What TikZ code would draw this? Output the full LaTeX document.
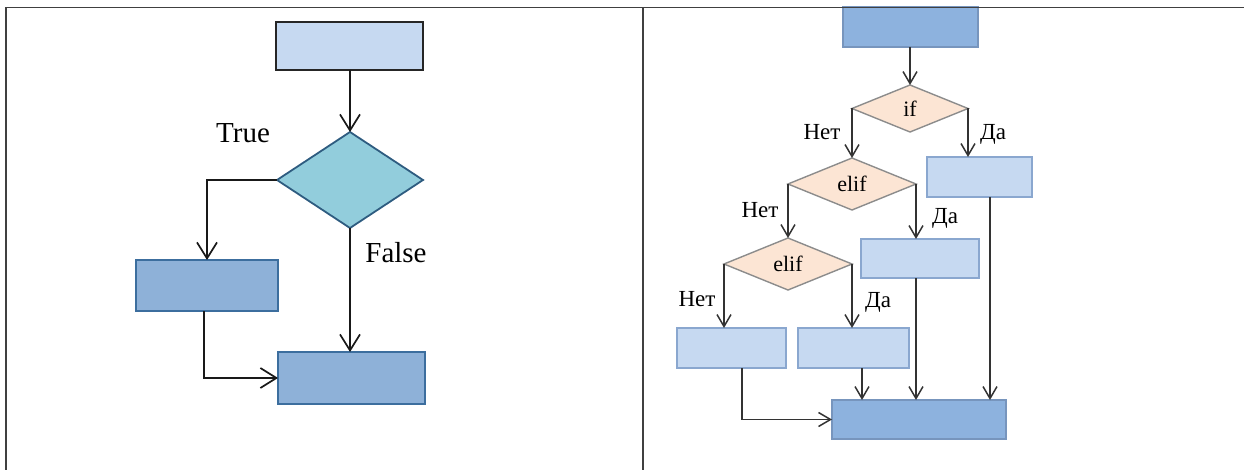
\documentclass[tikz,border=0pt]{standalone}
\usepackage{fontspec}
\setmainfont{Liberation Serif}
\usetikzlibrary{shapes.geometric,arrows.meta,calc}
\definecolor{ltopfill}{HTML}{C6D9F1}
\definecolor{ldiafill}{HTML}{92CDDC}
\definecolor{ldiadraw}{HTML}{2E5C80}
\definecolor{lboxfill}{HTML}{8EB1D8}
\definecolor{lboxdraw}{HTML}{3C6E9E}
\definecolor{rdiafill}{HTML}{FCE5D4}
\definecolor{rdiadraw}{HTML}{8C8C8C}
\definecolor{rlightfill}{HTML}{C6D9F1}
\definecolor{rlightdraw}{HTML}{8AA7CF}
\definecolor{rdarkfill}{HTML}{8DB2DE}
\definecolor{rdarkdraw}{HTML}{7795BD}
\definecolor{framecol}{HTML}{404040}
\tikzset{
  box/.style={rectangle, inner sep=0pt, outer sep=0pt},
  ltop/.style={box, fill=ltopfill, draw=black!85, line width=2pt},
  lbox/.style={box, fill=lboxfill, draw=lboxdraw, line width=1.6pt},
  ldia/.style={diamond, inner sep=0pt, outer sep=0pt, fill=ldiafill, draw=ldiadraw, line width=1.8pt},
  rdia/.style={diamond, inner sep=0pt, outer sep=0pt, fill=rdiafill, draw=rdiadraw, line width=1.4pt, font=\fontsize{22}{22}\selectfont},
  rlight/.style={box, fill=rlightfill, draw=rlightdraw, line width=1.4pt},
  rdark/.style={box, fill=rdarkfill, draw=rdarkdraw, line width=1.4pt},
  larr/.style={line width=1.7pt, draw=black!90, -{Straight Barb[length=16pt,width=20pt,line width=1.7pt]}},
  rarr/.style={line width=1.5pt, draw=black!80, -{Straight Barb[length=12pt,width=14pt,line width=1.5pt]}},
  llabel/.style={font=\fontsize{29}{29}\selectfont, inner sep=0pt},
  rlabel/.style={font=\fontsize{23}{23}\selectfont, inner sep=0pt},
  framestyle/.style={line width=1.3pt, draw=framecol}
}
\begin{document}
\begin{tikzpicture}[x=1pt,y=-1pt]
\useasboundingbox (0,0) rectangle (1244,470);
% ---------- left diagram ----------
\node[ltop, minimum width=147pt, minimum height=48pt] (ltopbox) at (349.5,46) {};
\node[ldia, minimum width=146pt, minimum height=96pt] (ldiam) at (350,180) {};
\node[lbox, minimum width=142pt, minimum height=51pt] (lleft) at (207,285.5) {};
\node[lbox, minimum width=147pt, minimum height=52pt] (lbottom) at (351.5,378) {};
\draw[larr] (ltopbox.south -| ldiam.north) -- (ldiam.north);
\draw[larr] (ldiam.west) -| (lleft.north);
\draw[larr] (ldiam.south) -- (ldiam.south |- lbottom.north);
\draw[larr] ([xshift=-3pt]lleft.south) |- (lbottom.west);
\node[llabel] (ltrue) at (243,133) {True};
\node[llabel] (lfalse) at (396,253) {False};
% ---------- right diagram ----------
\node[rdark, minimum width=135pt, minimum height=40pt] (rtop) at (910.5,27) {};
\node[rdia, minimum width=116pt, minimum height=47pt] (rif) at (910,108.5) {if};
\node[rdia, minimum width=128pt, minimum height=52pt] (relifa) at (852,184) {elif};
\node[rdia, minimum width=128pt, minimum height=52pt] (relifb) at (788,264) {elif};
\node[rlight, minimum width=105pt, minimum height=40pt] (rboxa) at (979.5,177) {};
\node[rlight, minimum width=118pt, minimum height=39pt] (rboxb) at (920,258.5) {};
\node[rlight, minimum width=111pt, minimum height=40pt] (rboxc) at (853.5,348) {};
\node[rlight, minimum width=109pt, minimum height=40pt] (rboxd) at (731.5,348) {};
\node[rdark, minimum width=174pt, minimum height=39pt] (rbottom) at (919,419.5) {};
% arrows
\draw[rarr] (rtop.south -| rif.north) -- (rif.north);
\draw[rarr] (rif.west) -- (relifa.north);
\draw[rarr] (rif.east) -- (rif.east |- rboxa.north);
\draw[rarr] (relifa.west) -- (relifb.north);
\draw[rarr] (relifa.east) -- (relifa.east |- rboxb.north);
\draw[rarr] (relifb.west) -- (relifb.west |- rboxd.north);
\draw[rarr] (relifb.east) -- (relifb.east |- rboxc.north);
\draw[rarr] ([xshift=10.5pt]rboxa.south) -- ([xshift=10.5pt]rboxa.south |- rbottom.north);
\draw[rarr] (rboxb.south -| relifa.east) -- (relifa.east |- rbottom.north);
\draw[rarr] ([xshift=8.5pt]rboxc.south) -- ([xshift=8.5pt]rboxc.south |- rbottom.north);
\draw[rarr] ([xshift=10.5pt]rboxd.south) |- (rbottom.west);
% labels
\node[rlabel] (rno1) at (822,132) {Нет};
\node[rlabel] (ryes1) at (993,134) {Да};
\node[rlabel] (rno2) at (760,210) {Нет};
\node[rlabel] (ryes2) at (945,218) {Да};
\node[rlabel] (rno3) at (697,299) {Нет};
\node[rlabel] (ryes3) at (878,302) {Да};
% ---------- frame ----------
\coordinate (ftl) at (5.35,7.5);
\coordinate (ftr) at (1244,7.5);
\coordinate (fbl) at (6,470);
\coordinate (fdt) at (643,7.5);
\coordinate (fdb) at (643,470);
\draw[framestyle] (ftl) -- (ftr);
\draw[framestyle] (6,7.5) -- (fbl);
\draw[framestyle] (fdt) -- (fdb);
\end{tikzpicture}
\end{document}
